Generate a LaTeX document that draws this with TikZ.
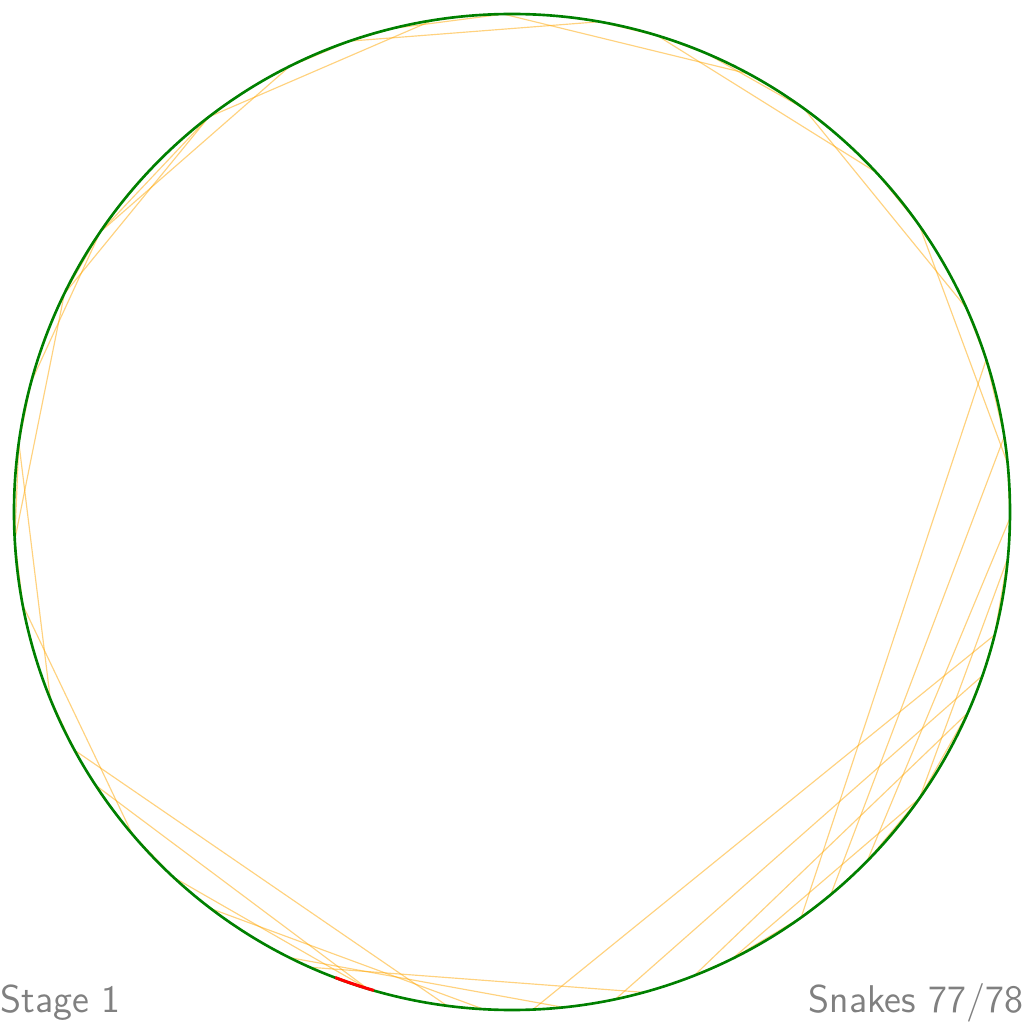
\documentclass[tikz,border=0pt]{standalone}
\usetikzlibrary{positioning}
\definecolor{trailorange}{RGB}{255,165,0}
\tikzset{
  ring/.style={draw=green!50!black, line width=0.75pt},
  head/.style={draw=red, line width=0.85pt},
  trail/.style={draw=trailorange, line width=0.33pt, opacity=0.5},
  caption/.style={text=gray, font=\sffamily\fontsize{11}{13}\selectfont, inner sep=0pt},
}
\begin{document}
\begin{tikzpicture}
  \useasboundingbox (0,0) rectangle (10.24,10.24);
  \coordinate (c) at (5.12,5.12);
  \foreach \a [count=\i] in {79.9, 109.0, 99.2, 127.5, 116.5, 145.8, 154.0, 164.8, 172.0, 183.2,
                             190.8, 202.0, 220.3, 208.6, 213.3, 262.5, 253.1, 227.2, 103.8, 91.0,
                             61.6, 73.0, 43.0, 54.1, 24.2, 35.1, 5.6, 17.8, -54.5, 8.7,
                             -50.2, -0.7, -44.5, -5.3, -35.1, -87.6, -14.3, -78.0, -19.2, -68.5,
                             -23.8, -63.7, -93.3, 232.8, -84.1, 243.5, -74.7, 67.0, 246.1}
    \coordinate (p\i) at ([shift={(\a:4.98)}]c);

  \foreach \s/\t in {1/2, 3/4, 5/6, 4/7, 6/8, 8/9, 7/10, 9/12, 10/11, 11/13,
                     2/5, 20/19, 19/2, 20/21, 22/23, 24/25, 1/22, 22/48, 48/24, 23/26,
                     26/27, 25/28, 28/29, 28/30, 30/31, 27/32, 32/33, 34/35, 36/37, 38/39,
                     40/41, 42/35, 14/16, 15/17, 18/17, 44/43, 46/45, 49/47, 12/14, 13/18,
                     4/6, 6/7, 9/10, 40/42, 42/29, 29/31, 31/33, 33/35, 35/41, 41/39,
                     39/37, 37/34}
    \draw[trail] (p\s) -- (p\t);

  \draw[ring] (c) circle (4.98);
  \draw[head] ([shift={(-110.8:4.98)}]c) arc (-110.8:-106.1:4.98);

  \node[caption, anchor=base west] (stage) at (0,0.12) {Stage 1};
  \node[caption, anchor=base east] (count) at (10.24,0.12) {Snakes 77/78};
\end{tikzpicture}
\end{document}
